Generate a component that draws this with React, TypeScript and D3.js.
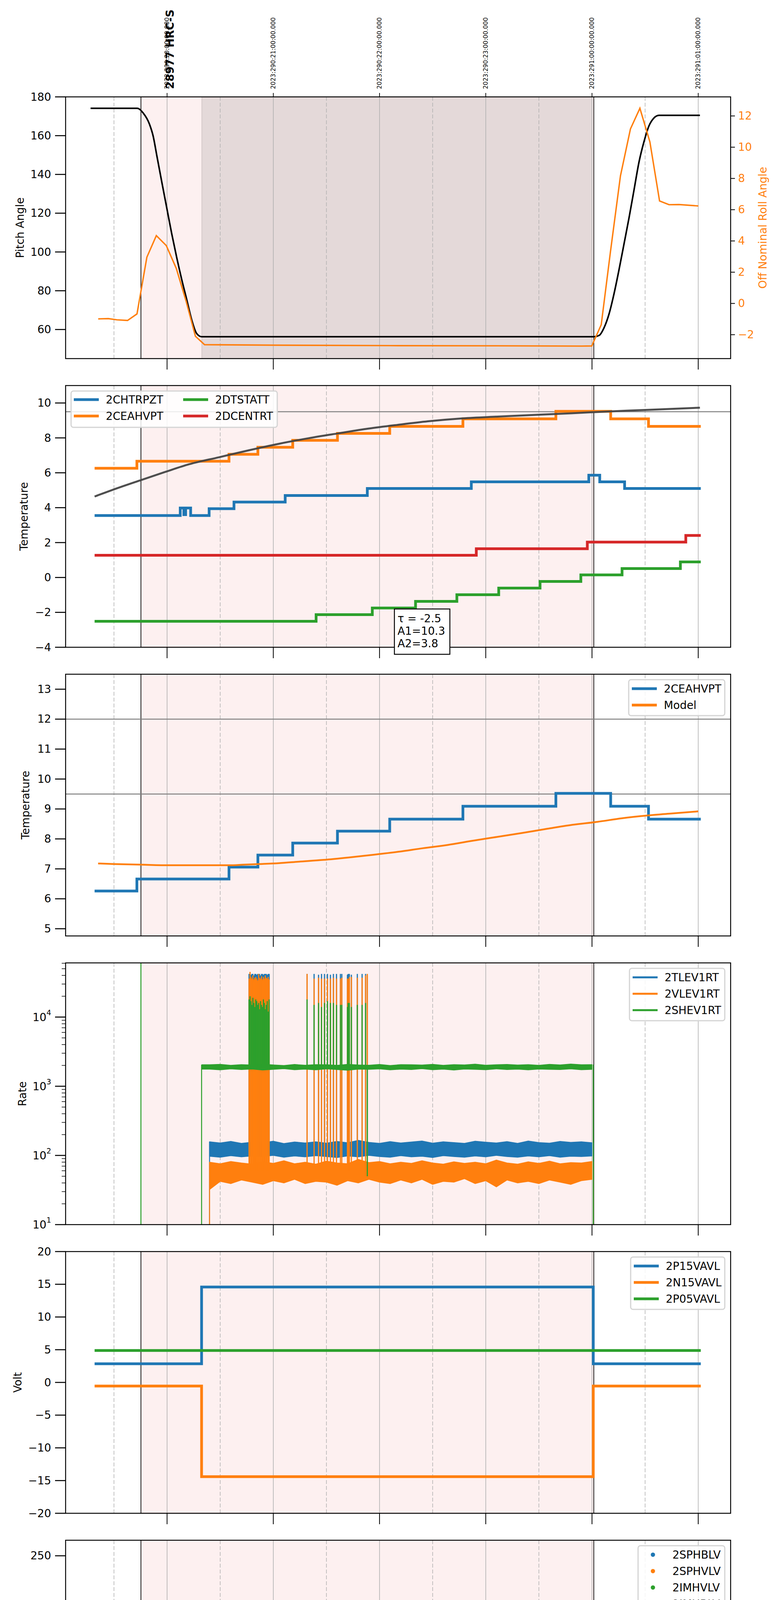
import React from 'react';
import * as d3 from 'd3';

const FONT = "'DejaVu Sans', 'Liberation Sans', sans-serif";
const BLUE = '#1f77b4', ORANGE = '#ff7f0e', GREEN = '#2ca02c', RED = '#d62728';

// ---------- time axis (decimal local hours, 2023-10-17) ----------
const HOUR_TICKS = [16, 17, 18, 19, 20, 21];
const HOUR_LABELS = ['16h', '17h', '18h', '19h', '20h', '21h'];
const HALF_TICKS = [15.5, 16.5, 17.5, 18.5, 19.5, 20.5];
const HALF_LABELS = ['30', '30', '30', '30', '30', '30'];
const TOP_LABELS = ['2023:290:20:00:00.000', '2023:290:21:00:00.000', '2023:290:22:00:00.000', '2023:290:23:00:00.000', '2023:291:00:00:00.000', '2023:291:01:00:00.000'];
const OBS_LABEL = '28977 HRC-S';
const X_TITLE = '2023-10-17 (290)';
const OBS_START = 15.754;
const OBS_END = 20.017;
const MANEUVER_END = 16.327;
const MANEUVER_BACK = 20.0;
const T_DOMAIN = [15.045, 21.305];

// ---------- panel 1: pitch / roll ----------
const PITCH: [number, number][] = [
  [15.28, 174.1], [15.721, 174.1], [15.775, 171.7], [15.834, 166.0], [15.869, 159.8], [15.904, 149.6], [15.95, 136.2],
  [15.997, 122.8], [16.044, 109.4], [16.091, 97.1], [16.138, 85.8], [16.185, 75.5], [16.231, 65.2], [16.278, 58.0],
  [16.325, 56.3], [20.017, 56.3], [20.068, 57.0], [20.115, 61.1], [20.162, 68.3], [20.208, 78.6], [20.255, 91.0],
  [20.302, 104.3], [20.349, 117.7], [20.396, 132.1], [20.443, 146.5], [20.489, 156.8], [20.536, 165.0], [20.583, 169.1],
  [20.63, 170.5], [21.016, 170.5]];
const ROLL: [number, number][] = [
  [15.352, -0.99], [15.447, -0.97], [15.529, -1.05], [15.628, -1.09], [15.717, -0.67], [15.81, 2.96], [15.899, 4.34],
  [15.993, 3.7], [16.087, 2.24], [16.18, 0.13], [16.267, -2.1], [16.353, -2.64], [17.0, -2.67], [18.1, -2.7],
  [18.99, -2.71], [19.9, -2.73], [19.998, -2.72], [20.087, -1.36], [20.174, 3.32], [20.268, 8.17], [20.362, 11.17],
  [20.451, 12.49], [20.545, 10.34], [20.636, 6.56], [20.725, 6.32], [20.819, 6.33], [21.001, 6.24]];

// ---------- panel 2/3: temperatures (step values) ----------
const CHTRPZT: [number, number][] = [[15.318, 3.55], [16.124, 3.98], [16.158, 3.6], [16.175, 3.98], [16.222, 3.55], [16.396, 3.94], [16.63, 4.32], [17.112, 4.7], [17.885, 5.1], [18.864, 5.48], [19.97, 5.86], [20.073, 5.48], [20.307, 5.1]];
const CEAHVPT: [number, number][] = [[15.318, 6.26], [15.716, 6.66], [16.583, 7.06], [16.855, 7.46], [17.183, 7.86], [17.604, 8.26], [18.096, 8.66], [18.785, 9.09], [19.66, 9.52], [20.176, 9.09], [20.532, 8.66]];
const DTSTATT: [number, number][] = [[15.318, -2.51], [17.403, -2.13], [17.932, -1.75], [18.339, -1.37], [18.728, -0.99], [19.122, -0.61], [19.511, -0.23], [19.895, 0.15], [20.283, 0.51], [20.832, 0.89]];
const DCENTRT: [number, number][] = [[15.318, 1.27], [18.911, 1.65], [19.956, 2.03], [20.883, 2.41]];
const TEMP_END = 21.024;
const FIT_CURVE: [number, number][] = [[15.318, 4.64], [15.505, 5.06], [15.754, 5.58], [15.974, 6.03], [16.208, 6.49], [16.489, 6.89], [16.77, 7.29], [17.051, 7.66], [17.332, 7.98], [17.613, 8.26], [17.894, 8.53], [18.175, 8.75], [18.456, 8.95], [18.784, 9.12], [19.112, 9.22], [19.66, 9.37], [20.002, 9.47], [20.33, 9.56], [20.66, 9.64], [21.016, 9.73]];
const FIT_TEXT = ['τ = -2.5', 'A1=10.3', 'A2=3.8'];
const MODEL: [number, number][] = [[15.351, 7.18], [15.505, 7.16], [15.754, 7.14], [16.021, 7.12], [16.302, 7.12], [16.583, 7.12], [16.723, 7.14], [16.864, 7.16], [17.051, 7.19], [17.239, 7.24], [17.473, 7.3], [17.707, 7.38], [17.941, 7.47], [18.176, 7.57], [18.41, 7.69], [18.644, 7.8], [18.878, 7.94], [19.112, 8.07], [19.346, 8.2], [19.581, 8.34], [19.815, 8.47], [20.049, 8.57], [20.283, 8.69], [20.517, 8.78], [20.751, 8.85], [21.0, 8.92]];
const LIMIT_P2 = [9.5];
const LIMIT_P3 = [12, 9.5];

// ---------- glitch times (two bursts) ----------
const G1 = [16.772, 16.781, 16.79, 16.799, 16.808, 16.817, 16.826, 16.835, 16.844, 16.853, 16.862, 16.871, 16.88, 16.889, 16.898, 16.907, 16.916, 16.925, 16.934, 16.943, 16.952, 16.961];
const G2 = [17.318, 17.384, 17.426, 17.454, 17.482, 17.51, 17.538, 17.566, 17.595, 17.632, 17.698, 17.716, 17.791];
const G_SPECIAL = 17.885;

// ---------- panel 4: rates ----------
const RATE_T = [16.4, 16.5, 16.6, 16.7, 16.8, 16.9, 17.0, 17.1, 17.2, 17.3, 17.4, 17.5, 17.6, 17.7, 17.8, 17.9, 18.0, 18.1, 18.2, 18.3, 18.4, 18.5, 18.6, 18.7, 18.8, 18.9, 19.0, 19.1, 19.2, 19.3, 19.4, 19.5, 19.6, 19.7, 19.8, 19.9, 20.0];
const TLEV_HI = [158, 152, 160, 150, 156, 153, 161, 149, 157, 152, 158, 151, 160, 153, 166, 155, 150, 159, 152, 157, 162, 151, 158, 154, 150, 161, 156, 152, 159, 150, 162, 154, 151, 160, 155, 158, 153];
const TLEV_LO = [97, 94, 99, 95, 98, 96, 100, 94, 98, 95, 99, 96, 93, 98, 95, 100, 96, 94, 99, 95, 97, 93, 99, 96, 94, 98, 95, 100, 96, 94, 98, 95, 99, 94, 97, 96, 98];
const VLEV_HI = [80, 76, 82, 78, 75, 81, 77, 84, 76, 80, 75, 83, 78, 76, 88, 79, 82, 76, 80, 77, 84, 78, 75, 81, 77, 80, 76, 86, 78, 75, 81, 77, 83, 76, 79, 78, 82];
const VLEV_LO = [32, 42, 39, 44, 41, 38, 43, 40, 45, 39, 42, 41, 37, 43, 40, 45, 41, 39, 44, 40, 45, 38, 42, 41, 46, 39, 43, 35, 44, 40, 42, 39, 44, 41, 38, 43, 45];
const SHEV_HI = [2050, 2080, 2010, 2060, 2030, 2090, 2040, 2000, 2070, 2020, 2060, 2050, 2010, 2080, 2040, 2020, 2070, 2000, 2060, 2050, 2030, 2080, 2010, 2060, 2040, 2090, 2020, 2050, 2070, 2030, 2060, 2010, 2080, 2040, 2100, 2050, 2060];
const SHEV_LO = [1760, 1720, 1780, 1740, 1770, 1710, 1750, 1790, 1730, 1760, 1720, 1780, 1740, 1700, 1760, 1750, 1780, 1720, 1760, 1740, 1790, 1730, 1760, 1710, 1770, 1750, 1730, 1780, 1740, 1760, 1720, 1770, 1750, 1740, 1780, 1730, 1750];
const SHEV_ON = 16.325;
const LEV_ON = 16.4;
const RATE_OFF = 20.012;
const SHEV_FLASH = 15.754;
const RATE_BASE = { tlev: 120, vlev: 60, shev: 1900 };
const RATE_G1_TLEV = [42000, 42000, 41000, 42000, 42000, 40000, 42000, 42000, 41000, 42000, 42000, 42000, 40000, 42000, 42000, 41000, 42000, 42000, 42000, 41000, 42000, 42000];
const RATE_G1_VLEV = [36000, 45000, 38000, 36000, 40000, 35000, 37000, 38000, 36000, 34000, 42000, 37000, 36000, 39000, 35000, 38000, 36000, 40000, 37000, 36000, 38000, 35000];
const RATE_G1_SHEV = [18000, 20000, 17000, 15000, 19000, 16000, 14000, 18000, 17000, 15000, 16000, 13000, 17000, 15000, 14000, 18000, 16000, 13000, 15000, 17000, 12000, 18000];
const RATE_G2_TLEV = [42000, 42000, 41000, 42000, 42000, 42000, 41000, 42000, 42000, 42000, 41000, 42000, 42000];
const RATE_G2_VLEV = [42000, 36000, 37000, 36000, 36000, 36000, 36000, 37000, 36000, 36000, 36000, 38000, 37000];
const RATE_G2_SHEV = [18000, 15000, 16000, 14000, 16000, 17000, 16000, 16000, 15000, 15000, 14000, 16000, 15000];
const RATE_G2_EXTRA_T = [17.645, 17.705, 17.735, 17.836, 17.869];
const RATE_G2_EXTRA_TLEV = [42000, 42000, 41000, 42000, 42000];
const RATE_G2_EXTRA_VLEV = [37000, 36000, 38000, 37000, 40000];
const RATE_G2_EXTRA_SHEV = [15000, 16000, 14000, 15000, 16000];
const RATE_SPECIAL = { tlev: 40000, vlev: 42000, shev: 50 };

// ---------- panel 5: voltages ----------
const P15VAVL: [number, number][] = [[15.318, 2.85], [16.325, 14.58], [20.012, 2.85]];
const N15VAVL: [number, number][] = [[15.318, -0.55], [16.325, -14.4], [20.012, -0.55]];
const P05VAVL: [number, number][] = [[15.318, 4.88]];

// ---------- panel 6: HV monitor ----------
const SPHBLV_RAMP: [number, number][] = [[16.353, 117.8], [16.358, 101.7], [16.372, 97.2], [16.381, 92.1], [16.391, 87.2], [16.4, 82.1]];
const SPHVLV_RAMP: [number, number][] = [[16.353, 126.9], [16.354, 125.5], [16.358, 95.4], [16.367, 90.8], [16.377, 85.4], [16.386, 80.3], [16.395, 75.4]];
const SPHBLV_LEVEL = 77.7;
const SPHVLV_LEVEL = 70.4;
const HV_ON = 16.405;
const HV_OFF = 20.012;
const SPHVLV_OUTLIERS: [number, number][] = [[16.826, 126.9], [16.864, 126.9], [16.93, 126.9], [17.426, 126.9], [17.464, 126.9], [17.506, 126.9], [17.632, 126.9], [17.89, 126.9]];

// ---------- panel 7: detector temps ----------
const SPINATM: [number, number][] = [[16.349, 3.71], [16.489, 4.17], [19.286, 4.61]];
const SPHVATM: [number, number][] = [[16.325, 15.55], [16.433, 15.85], [16.527, 16.13], [16.597, 16.42], [16.667, 16.71], [16.747, 17.0], [16.864, 17.34], [16.934, 17.56], [17.018, 17.85], [17.145, 18.14], [17.285, 18.43], [17.426, 18.72], [17.613, 19.01], [17.801, 19.3], [18.105, 19.59], [18.433, 19.88], [18.925, 20.17], [19.534, 20.49]];
const IMINATM: [number, number][] = [[16.349, 1.95], [18.105, 2.38], [18.215, 1.95], [18.23, 2.38]];
const IMHVATM: [number, number][] = [[16.323, -5], [16.325, 14.98], [16.723, 15.27], [17.075, 15.56], [17.426, 15.81], [17.791, 16.1], [18.152, 16.39], [18.714, 16.68], [19.384, 16.97], [20.012, 40], [20.016, -10]];
const DET_END = 20.005;
const DET_G1_BLUE = [0, 0, 0, 0, 0, 0, 0, 0, 0, 0, 0, 0, 0, 0, 0, 0, 0, 0, 0, 0, 0, 0];
const DET_G1_ORANGE = [10.4, 10.6, 10.3, 10.5, 10.6, 10.5, 10.4, 10.6, 10.5, 10.5, 10.6, 10.4, 10.5, 10.6, 10.5, 10.5, 10.6, 10.5, 10.4, 10.5, 10.6, 10.5];
const DET_G1_GREEN = [4.2, 4.25, 4.2, 4.25, 4.2, 4.2, 4.25, 4.2, 4.2, 4.25, 4.2, 4.2, 4.25, 4.2, 4.2, 4.25, 4.2, 4.2, 4.25, 4.2, 4.2, 4.25];
const DET_G1_RED = [17.0, 17.3, 17.0, 17.3, 17.2, 17.3, 17.3, 17.0, 17.3, 17.2, 17.3, 17.3, 17.1, 17.3, 17.5, 17.3, 17.6, 17.3, 17.6, 17.4, 17.6, 17.5];
const DET_G2_BLUE = [0, 0, 0, 0, 0, 0, 0, null, null, 0, null, 0, 0];
const DET_G2_ORANGE = [10.8, 10.8, 10.8, 10.8, 10.8, 10.8, 10.8, 10.8, 10.8, 11.0, 11.0, null, 11.0];
const DET_G2_GREEN = [4.2, 4.2, 4.2, 4.2, 4.2, 4.2, 4.2, 4.2, 4.2, 4.2, 4.2, 4.2, 4.2];
const DET_G2_RED = [18.4, 18.8, 18.8, 18.8, 18.8, 18.8, 18.8, 18.8, 18.8, 18.9, 18.9, 18.9, 18.9];
const DET_SPECIAL_ORANGE: [number, number][] = [[G_SPECIAL, 4.2]];
const DET_SPECIAL_GREEN: [number, number][] = [[G_SPECIAL, 0]];
const DET_SPECIAL_RED: [number, number][] = [[G_SPECIAL - 0.002, 19.3], [G_SPECIAL + 0.002, 11.2]];

// ---------- panel 8: FEA temps ----------
const FHTRMZT: [number, number][] = [[15.318, -5.21], [16.62, -4.8], [16.808, -4.41], [16.981, -4.02], [17.136, -3.64], [17.309, -3.25], [17.482, -2.89], [17.684, -2.51], [17.885, -2.13], [18.082, -1.74], [18.307, -1.36], [18.527, -0.98], [18.747, -0.61], [18.995, -0.22], [19.253, 0.14], [19.501, 0.51], [19.777, 0.89], [20.058, 1.25], [20.18, 0.89], [20.447, 0.51], [20.705, 0.14]];
const FHTRMZT_GLITCH: [number, number][] = [[18.981, -1.78]];
const FRADPYT: [number, number][] = [[15.318, -7.18], [16.185, -7.9], [16.63, -7.18], [16.831, -6.77], [17.028, -6.38], [17.239, -5.98], [17.449, -5.59], [17.66, -5.21], [17.885, -4.8], [18.119, -4.43], [18.353, -4.03], [18.597, -3.66], [18.855, -3.28], [19.126, -2.9], [19.407, -2.51], [19.698, -2.13], [20.002, -1.76], [20.166, -2.13], [20.339, -2.51]];
const FEPRATM: [number, number][] = [[16.339, -4.23], [16.386, -3.84], [16.433, -3.46], [16.489, -3.05], [16.56, -2.65], [16.63, -2.24], [16.756, -1.83], [16.958, -1.42], [17.028, -1.01], [17.192, -0.62], [17.37, -0.22], [17.613, 0.21], [17.763, 0.62], [17.988, 1.04], [18.213, 1.43], [18.48, 1.91], [18.738, 2.34], [19.009, 2.78], [19.309, 3.23], [19.618, 3.67], [19.955, 4.11]];
const FE00ATM: [number, number][] = [[16.32, -10], [16.325, -3.13], [16.442, -2.78], [16.56, -2.44], [16.69, -2.1], [16.77, -1.83], [16.958, -1.45], [17.018, -1.1], [17.145, -0.77], [17.276, -0.45], [17.449, -0.15], [17.599, 0.18], [17.754, 0.53], [17.871, 0.83], [18.011, 1.12], [18.199, 1.43], [18.363, 1.75], [18.55, 2.07], [18.728, 2.36], [18.915, 2.66], [19.122, 2.98], [19.323, 3.27], [19.525, 3.56], [19.749, 3.85], [20.012, 10], [20.016, -12]];
const FE00ATM_SMALL: [number, number][] = [[16.433, -3.5], [18.035, 1.45], [18.48, 2.05], [18.588, 1.4], [19.267, 3.6], [19.37, 2.9], [19.417, 3.6]];
const FEA_G1_GREEN = [-4.7, null, -4.6, null, -4.7, null, -4.7, null, -4.6, null, -4.7, null, -4.7, null, -4.6, null, -4.7, null, -4.7, null, -4.6, -4.7];
const FEA_G1_RED = [10, 10, 10, 10, 10, 10, 10, 10, 10, 10, 10, 10, 10, 10, 10, 10, 10, 10, 10, 10, 10, 10];
const FEA_G2_GREEN = [null, null, -4.7, -4.7, -4.7, -4.7, -4.7, -4.7, null, -4.7, null, null, null];
const FEA_G2_RED = [10, 10, null, 10, null, 10, null, 10, null, 10, 10, null, 10];
const FEA_SPECIAL_RED: [number, number][] = [[G_SPECIAL - 0.002, 10], [G_SPECIAL + 0.002, -12]];

// ---------- layout ----------
const LEFT = 168, RIGHT = 1871, TOP0 = 248, STEP = 739, PH = 670;
const FS = 27.8;
const panelTop = (i: number) => TOP0 + i * STEP;

const pairs = (times: number[], vals: (number | null)[]): [number, number][] =>
  times.map((t, k) => [t, vals[k]] as [number, number | null]).filter(p => p[1] !== null) as [number, number][];

function stepSeries(steps: [number, number][], end: number, glitches: [number, number][] = []): [number, number][] {
  const valueAt = (t: number) => { let v = steps[0][1]; for (const [s, w] of steps) { if (s <= t) v = w; } return v; };
  const pts: [number, number][] = steps.map(p => [p[0], p[1]] as [number, number]);
  glitches.forEach(([g, v]) => { const b = valueAt(g); pts.push([g, v]); pts.push([g + 0.0035, b]); });
  pts.sort((a, b) => a[0] - b[0]);
  pts.push([end, valueAt(end)]);
  return pts;
}

const fmtNum = (v: number, dec = 0) => (v < 0 ? '\u2212' : '') + Math.abs(v).toFixed(dec);

export default function App() {
  const x = d3.scaleLinear().domain(T_DOMAIN).range([LEFT, RIGHT]);
  const yLin = (i: number, dom: number[]) => d3.scaleLinear().domain(dom).range([panelTop(i) + PH, panelTop(i)]);
  const y1 = yLin(0, [45, 180]);
  const y1r = yLin(0, [-3.53, 13.22]);
  const y2 = yLin(1, [-4, 11]);
  const y3 = yLin(2, [4.76, 13.5]);
  const y4 = d3.scaleLog().domain([10, 60700]).range([panelTop(3) + PH, panelTop(3)]);
  const y5 = yLin(4, [-20, 20]);
  const y6 = yLin(5, [0, 265.8]);
  const y7 = yLin(6, [0.43, 21.66]);
  const y8 = yLin(7, [-7.49, 4.42]);

  const stepLine = (y: any) => d3.line<[number, number]>().x(d => x(d[0])).y(d => y(d[1])).curve(d3.curveStepAfter);
  const linLine = (y: any) => d3.line<[number, number]>().x(d => x(d[0])).y(d => y(d[1]));
  const smoothLine = (y: any) => d3.line<[number, number]>().x(d => x(d[0])).y(d => y(d[1])).curve(d3.curveMonotoneX);

  const back = (i: number, refLines: number[] = [], y: any = null) => {
    const t = panelTop(i);
    return (
      <g>
        <rect x={x(OBS_START)} y={t} width={x(OBS_END) - x(OBS_START)} height={PH} fill="#fdf0f0" />
        {i === 0 && <rect x={x(MANEUVER_END)} y={t} width={x(MANEUVER_BACK) - x(MANEUVER_END)} height={PH} fill="#e4d9d9" stroke="#cfc4c4" strokeWidth={1.5} />}
        {HOUR_TICKS.map(h => <line key={'g' + h} x1={x(h)} x2={x(h)} y1={t} y2={t + PH} stroke="#b0b0b0" strokeWidth={1.6} />)}
        {HALF_TICKS.map(h => <line key={'m' + h} x1={x(h)} x2={x(h)} y1={t} y2={t + PH} stroke="#b0b0b0" strokeWidth={1.5} strokeDasharray="10,5" />)}
        {[OBS_START, OBS_END].map(v => <line key={'o' + v} x1={x(v)} x2={x(v)} y1={t} y2={t + PH} stroke="#000" strokeWidth={1.8} />)}
        {refLines.map(v => <line key={'r' + v} x1={LEFT} x2={RIGHT} y1={y(v)} y2={y(v)} stroke="#808080" strokeWidth={2.5} />)}
      </g>
    );
  };

  const front = (i: number, y: any, ticks: number[], fmt: (v: number) => any, label: string, labelX: number) => {
    const t = panelTop(i);
    return (
      <g>
        <rect x={LEFT} y={t} width={RIGHT - LEFT} height={PH} fill="none" stroke="#000" strokeWidth={2.4} />
        {ticks.map(v => (
          <g key={'yt' + v}>
            <line x1={LEFT - 27} x2={LEFT} y1={y(v)} y2={y(v)} stroke="#000" strokeWidth={2.6} />
            <text x={LEFT - 37} y={y(v)} textAnchor="end" dominantBaseline="central" fontSize={FS}>{fmt(v)}</text>
          </g>
        ))}
        {HOUR_TICKS.map(h => <line key={'xt' + h} x1={x(h)} x2={x(h)} y1={t + PH} y2={t + PH + 28} stroke="#000" strokeWidth={2} />)}
        <text transform={`translate(${labelX},${t + PH / 2}) rotate(-90)`} textAnchor="middle" dominantBaseline="central" fontSize={FS}>{label}</text>
      </g>
    );
  };

  const legend = (x0: number, y0: number, w: number, items: { label: string; color: string }[], dot = false, lw = 7) => (
    <g>
      <rect x={x0} y={y0} width={w} height={items.length * 42 + 8} rx={6} fill="#fff" fillOpacity={0.85} stroke="#d4d4d4" strokeWidth={3} />
      {items.map((it, k) => {
        const cy = y0 + 23 + k * 42;
        return (
          <g key={it.label}>
            {dot ? <circle cx={x0 + 38} cy={cy} r={5.5} fill={it.color} /> :
              <line x1={x0 + 8} x2={x0 + 72} y1={cy} y2={cy} stroke={it.color} strokeWidth={lw} />}
            <text x={x0 + (dot ? 88 : 90)} y={cy} dominantBaseline="central" fontSize={FS}>{it.label}</text>
          </g>
        );
      })}
    </g>
  );

  const clip = (i: number) => `url(#clip${i})`;

  const rateBand = (lo: number[], hi: number[], t0: number | null = null) => {
    const rows = RATE_T.map((tt, k) => [tt, lo[k], hi[k]]);
    if (t0 !== null) rows.unshift([t0, lo[0], hi[0]]);
    return d3.area<number[]>().x(d => x(d[0])).y0(d => y4(d[1])).y1(d => y4(d[2]))(rows) as string;
  };
  const spikes = (times: number[], vals: number[], base: number, color: string, w = 3) =>
    times.map((tt, k) => <line key={color + tt} x1={x(tt)} x2={x(tt)} y1={y4(base)} y2={y4(vals[k])} stroke={color} strokeWidth={w} />);

  const p1 = panelTop(0);

  return (
    <svg width={1992} height={6192} viewBox="8 8 1992 6192" style={{ display: 'block' }} fontFamily={FONT}>
      <defs>
        {[0, 1, 2, 3, 4, 5, 6, 7].map(i => (
          <clipPath id={`clip${i}`} key={i}><rect x={LEFT} y={panelTop(i)} width={RIGHT - LEFT} height={PH} /></clipPath>
        ))}
      </defs>
      <rect x={0} y={0} width={2000} height={6200} fill="#fff" />

      {/* ---------- panel 1 ---------- */}
      {back(0)}
      <g clipPath={clip(0)}>
        <path d={smoothLine(y1)(PITCH) as string} fill="none" stroke="#000" strokeWidth={4} />
        <path d={linLine(y1r)(ROLL) as string} fill="none" stroke={ORANGE} strokeWidth={3.6} />
      </g>
      {front(0, y1, [60, 80, 100, 120, 140, 160, 180], v => fmtNum(v), 'Pitch Angle', 51)}
      {[-2, 0, 2, 4, 6, 8, 10, 12].map(v => (
        <g key={'rt' + v}>
          <line x1={RIGHT} x2={RIGHT + 11} y1={y1r(v)} y2={y1r(v)} stroke="#000" strokeWidth={2} />
          <text x={RIGHT + 19} y={y1r(v)} dominantBaseline="central" fontSize={FS} fill={ORANGE}>{fmtNum(v)}</text>
        </g>
      ))}
      <text transform={`translate(1953,${p1 + PH / 2}) rotate(-90)`} textAnchor="middle" dominantBaseline="central" fontSize={FS} fill={ORANGE}>Off Nominal Roll Angle</text>
      {HOUR_TICKS.map((h, k) => (
        <g key={'top' + h}>
          <line x1={x(h)} x2={x(h)} y1={p1 - 10} y2={p1} stroke="#000" strokeWidth={1.8} />
          <text transform={`translate(${x(h)},228) rotate(-90)`} dominantBaseline="central" fontSize={15.5}>{TOP_LABELS[k]}</text>
        </g>
      ))}
      <text transform="translate(435,228) rotate(-90)" dominantBaseline="central" fontSize={FS} fontWeight="bold">{OBS_LABEL}</text>

      {/* ---------- panel 2 ---------- */}
      {back(1, LIMIT_P2, y2)}
      <g clipPath={clip(1)} fill="none">
        <path d={stepLine(y2)(stepSeries(CHTRPZT, TEMP_END)) as string} stroke={BLUE} strokeWidth={7} />
        <path d={stepLine(y2)(stepSeries(CEAHVPT, TEMP_END)) as string} stroke={ORANGE} strokeWidth={7} />
        <path d={stepLine(y2)(stepSeries(DTSTATT, TEMP_END)) as string} stroke={GREEN} strokeWidth={7} />
        <path d={stepLine(y2)(stepSeries(DCENTRT, TEMP_END)) as string} stroke={RED} strokeWidth={7} />
        <path d={smoothLine(y2)(FIT_CURVE) as string} stroke="#454545" strokeWidth={5} strokeOpacity={0.95} />
      </g>
      {front(1, y2, [-4, -2, 0, 2, 4, 6, 8, 10], v => fmtNum(v), 'Temperature', 61)}
      <g>
        <rect x={182} y={1001} width={528} height={93} rx={6} fill="#fff" fillOpacity={0.85} stroke="#d4d4d4" strokeWidth={3} />
        {[{ l: '2CHTRPZT', c: BLUE, cx: 189, cy: 1023 }, { l: '2CEAHVPT', c: ORANGE, cx: 189, cy: 1065 }, { l: '2DTSTATT', c: GREEN, cx: 469, cy: 1023 }, { l: '2DCENTRT', c: RED, cx: 469, cy: 1065 }].map(it => (
          <g key={it.l}>
            <line x1={it.cx} x2={it.cx + 64} y1={it.cy} y2={it.cy} stroke={it.c} strokeWidth={7} />
            <text x={it.cx + 82} y={it.cy} dominantBaseline="central" fontSize={FS}>{it.l}</text>
          </g>
        ))}
      </g>
      <g>
        <rect x={1010} y={1559} width={142} height={116} fill="#fff" stroke="#000" strokeWidth={2.4} />
        {FIT_TEXT.map((s, k) => <text key={s} x={1018} y={1583 + k * 32} dominantBaseline="central" fontSize={FS}>{s}</text>)}
      </g>

      {/* ---------- panel 3 ---------- */}
      {back(2, LIMIT_P3, y3)}
      <g clipPath={clip(2)} fill="none">
        <path d={stepLine(y3)(stepSeries(CEAHVPT, TEMP_END)) as string} stroke={BLUE} strokeWidth={7} />
        <path d={smoothLine(y3)(MODEL) as string} stroke={ORANGE} strokeWidth={4.5} />
      </g>
      {front(2, y3, [5, 6, 7, 8, 9, 10, 11, 12, 13], v => fmtNum(v), 'Temperature', 65)}
      {legend(1610, panelTop(2) + 14, 246, [{ label: '2CEAHVPT', color: BLUE }, { label: 'Model', color: ORANGE }])}

      {/* ---------- panel 4 ---------- */}
      {back(3)}
      <g clipPath={clip(3)}>
        <path d={rateBand(TLEV_LO, TLEV_HI)} fill={BLUE} stroke={BLUE} strokeWidth={1.5} />
        <line x1={x(LEV_ON)} x2={x(LEV_ON)} y1={y4(5)} y2={y4(TLEV_HI[0])} stroke={BLUE} strokeWidth={2.5} />
        {spikes(G1, RATE_G1_TLEV, RATE_BASE.tlev, BLUE)}
        {spikes(G2, RATE_G2_TLEV, RATE_BASE.tlev, BLUE)}
        {spikes(RATE_G2_EXTRA_T, RATE_G2_EXTRA_TLEV, RATE_BASE.tlev, BLUE)}
        {spikes([G_SPECIAL], [RATE_SPECIAL.tlev], RATE_BASE.tlev, BLUE)}
        <line x1={x(RATE_OFF)} x2={x(RATE_OFF)} y1={y4(5)} y2={y4(TLEV_HI[36])} stroke={BLUE} strokeWidth={2.5} />

        <path d={rateBand(VLEV_LO, VLEV_HI)} fill={ORANGE} stroke={ORANGE} strokeWidth={1.5} />
        <line x1={x(LEV_ON)} x2={x(LEV_ON)} y1={y4(5)} y2={y4(VLEV_HI[0])} stroke={ORANGE} strokeWidth={2.5} />
        {spikes(G1, RATE_G1_VLEV, RATE_BASE.vlev, ORANGE)}
        {spikes(G2, RATE_G2_VLEV, RATE_BASE.vlev, ORANGE)}
        {spikes(RATE_G2_EXTRA_T, RATE_G2_EXTRA_VLEV, RATE_BASE.vlev, ORANGE)}
        {spikes([G_SPECIAL], [RATE_SPECIAL.vlev], RATE_BASE.vlev, ORANGE)}
        <line x1={x(RATE_OFF)} x2={x(RATE_OFF)} y1={y4(5)} y2={y4(VLEV_HI[36])} stroke={ORANGE} strokeWidth={2.5} />

        <line x1={x(SHEV_FLASH)} x2={x(SHEV_FLASH)} y1={y4(5)} y2={y4(1e6)} stroke={GREEN} strokeWidth={2.5} />
        <path d={rateBand(SHEV_LO, SHEV_HI, SHEV_ON + 0.004)} fill={GREEN} stroke={GREEN} strokeWidth={1.5} />
        <line x1={x(SHEV_ON)} x2={x(SHEV_ON)} y1={y4(5)} y2={y4(SHEV_HI[0])} stroke={GREEN} strokeWidth={2.5} />
        {spikes(G1, RATE_G1_SHEV, RATE_BASE.shev, GREEN)}
        {spikes(G2, RATE_G2_SHEV, RATE_BASE.shev, GREEN)}
        {spikes(RATE_G2_EXTRA_T, RATE_G2_EXTRA_SHEV, RATE_BASE.shev, GREEN)}
        {spikes([G_SPECIAL], [RATE_SPECIAL.shev], RATE_BASE.shev, GREEN)}
        <line x1={x(RATE_OFF)} x2={x(RATE_OFF)} y1={y4(5)} y2={y4(SHEV_HI[36])} stroke={GREEN} strokeWidth={2.5} />
      </g>
      {[10, 100, 1000, 10000].flatMap(d => [2, 3, 4, 5, 6, 7, 8, 9].map(k => k * d)).filter(v => v <= 60700).map(v => (
        <line key={'mt' + v} x1={LEFT - 10} x2={LEFT} y1={y4(v)} y2={y4(v)} stroke="#000" strokeWidth={1.5} />
      ))}
      {front(3, y4, [10, 100, 1000, 10000], v => (
        <tspan>10<tspan dy={-12} fontSize={19}>{Math.round(Math.log10(v))}</tspan></tspan>
      ), 'Rate', 57)}
      {legend(1612, panelTop(3) + 14, 244, [{ label: '2TLEV1RT', color: BLUE }, { label: '2VLEV1RT', color: ORANGE }, { label: '2SHEV1RT', color: GREEN }], false, 5)}

      {/* ---------- panel 5 ---------- */}
      {back(4)}
      <g clipPath={clip(4)} fill="none">
        <path d={stepLine(y5)(stepSeries(P15VAVL, TEMP_END)) as string} stroke={BLUE} strokeWidth={7} />
        <path d={stepLine(y5)(stepSeries(N15VAVL, TEMP_END)) as string} stroke={ORANGE} strokeWidth={7} />
        <path d={stepLine(y5)(stepSeries(P05VAVL, TEMP_END)) as string} stroke={GREEN} strokeWidth={7} />
      </g>
      {front(4, y5, [-20, -15, -10, -5, 0, 5, 10, 15, 20], v => fmtNum(v), 'Volt', 45)}
      {legend(1615, panelTop(4) + 14, 241, [{ label: '2P15VAVL', color: BLUE }, { label: '2N15VAVL', color: ORANGE }, { label: '2P05VAVL', color: GREEN }])}

      {/* ---------- panel 6 ---------- */}
      {back(5)}
      <g clipPath={clip(5)}>
        <line x1={x(HV_ON)} x2={x(HV_OFF)} y1={y6(SPHBLV_LEVEL)} y2={y6(SPHBLV_LEVEL)} stroke={BLUE} strokeWidth={13} strokeLinecap="round" />
        {SPHBLV_RAMP.map(([tt, v]) => <circle key={'b' + tt} cx={x(tt)} cy={y6(v)} r={5.5} fill={BLUE} />)}
        <line x1={x(HV_ON)} x2={x(HV_OFF)} y1={y6(SPHVLV_LEVEL)} y2={y6(SPHVLV_LEVEL)} stroke={ORANGE} strokeWidth={12} strokeLinecap="round" />
        {SPHVLV_RAMP.map(([tt, v]) => <circle key={'o' + tt} cx={x(tt)} cy={y6(v)} r={5.5} fill={ORANGE} />)}
        {SPHVLV_OUTLIERS.map(([tt, v]) => <circle key={'x' + tt} cx={x(tt)} cy={y6(v)} r={5.5} fill={ORANGE} />)}
      </g>
      {front(5, y6, [0, 50, 100, 150, 200, 250], v => fmtNum(v), 'HV Monitor', 48)}
      {legend(1634, panelTop(5) + 14, 222, [{ label: '2SPHBLV', color: BLUE }, { label: '2SPHVLV', color: ORANGE }, { label: '2IMHVLV', color: GREEN }, { label: '2IMHBLV', color: RED }], true)}

      {/* ---------- panel 7 ---------- */}
      {back(6)}
      <g clipPath={clip(6)} fill="none">
        <path d={stepLine(y7)(stepSeries(SPINATM, DET_END, [...pairs(G1, DET_G1_BLUE), ...pairs(G2, DET_G2_BLUE)])) as string} stroke={BLUE} strokeWidth={7} />
        <path d={stepLine(y7)(stepSeries(SPHVATM, DET_END, [...pairs(G1, DET_G1_ORANGE), ...pairs(G2, DET_G2_ORANGE), ...DET_SPECIAL_ORANGE])) as string} stroke={ORANGE} strokeWidth={7} />
        <path d={stepLine(y7)(stepSeries(IMINATM, DET_END, [...pairs(G1, DET_G1_GREEN), ...pairs(G2, DET_G2_GREEN), ...DET_SPECIAL_GREEN])) as string} stroke={GREEN} strokeWidth={7} />
        <path d={stepLine(y7)(stepSeries(IMHVATM, 20.02, [...pairs(G1, DET_G1_RED), ...pairs(G2, DET_G2_RED), ...DET_SPECIAL_RED])) as string} stroke={RED} strokeWidth={7} />
      </g>
      {front(6, y7, [2.5, 5, 7.5, 10, 12.5, 15, 17.5, 20], v => fmtNum(v, 1), 'Detector Temp', 41)}
      {legend(1610, panelTop(6) + 14, 246, [{ label: '2SPINATM', color: BLUE }, { label: '2SPHVATM', color: ORANGE }, { label: '2IMINATM', color: GREEN }, { label: '2IMHVATM', color: RED }])}

      {/* ---------- panel 8 ---------- */}
      {back(7)}
      <g clipPath={clip(7)} fill="none">
        <path d={stepLine(y8)(stepSeries(FHTRMZT, TEMP_END, FHTRMZT_GLITCH)) as string} stroke={BLUE} strokeWidth={7} />
        <path d={stepLine(y8)(stepSeries(FRADPYT, TEMP_END)) as string} stroke={ORANGE} strokeWidth={7} />
        <path d={stepLine(y8)(stepSeries(FEPRATM, DET_END, [...pairs(G1, FEA_G1_GREEN), ...pairs(G2, FEA_G2_GREEN)])) as string} stroke={GREEN} strokeWidth={7} />
        <path d={stepLine(y8)(stepSeries(FE00ATM, 20.02, [...pairs(G1, FEA_G1_RED), ...pairs(G2, FEA_G2_RED), ...FEA_SPECIAL_RED, ...FE00ATM_SMALL])) as string} stroke={RED} strokeWidth={7} />
      </g>
      {front(7, y8, [-6, -4, -2, 0, 2, 4], v => fmtNum(v), 'FEA Temp', 61)}
      {legend(1607, panelTop(7) + 14, 249, [{ label: '2FHTRMZT', color: BLUE }, { label: '2FRADPYT', color: ORANGE }, { label: '2FEPRATM', color: GREEN }, { label: '2FE00ATM', color: RED }])}

      {/* bottom x labels */}
      {HALF_TICKS.map((h, k) => <text key={'hl' + h} x={x(h)} y={6107} textAnchor="middle" dominantBaseline="central" fontSize={18}>{HALF_LABELS[k]}</text>)}
      {HOUR_TICKS.map((h, k) => <text key={'ml' + h} x={x(h)} y={6140} textAnchor="middle" dominantBaseline="central" fontSize={FS}>{HOUR_LABELS[k]}</text>)}
      <text x={(LEFT + RIGHT) / 2} y={6178} textAnchor="middle" dominantBaseline="central" fontSize={33}>{X_TITLE}</text>
    </svg>
  );
}
